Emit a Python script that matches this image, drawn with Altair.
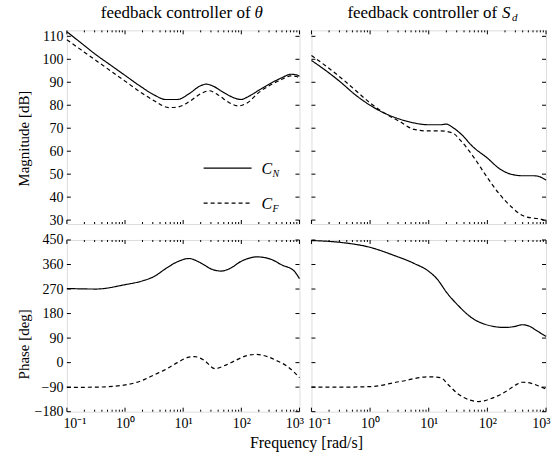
import altair as alt
import pandas as pd

FONT = "Liberation Serif, Times New Roman, serif"

# ---------------- data (log10 of frequency in rad/s, values) ----------------
# Magnitude, feedback controller of theta
mt_cn_logf = [-1.0, -0.75, -0.5, -0.25, 0.0, 0.25, 0.5, 0.7, 0.9, 1.1, 1.3, 1.4, 1.5, 1.7, 1.9, 2.0, 2.1, 2.3, 2.5, 2.7, 2.85, 2.95, 3.0]
mt_cn_db = [112.0, 107.0, 102.0, 97.5, 93.0, 88.5, 84.5, 82.5, 82.5, 85.0, 88.5, 89.2, 88.5, 85.5, 83.0, 82.5, 83.5, 86.5, 89.5, 92.0, 93.5, 93.2, 92.6]
mt_cf_logf = [-1.0, -0.75, -0.5, -0.25, 0.0, 0.25, 0.5, 0.75, 0.9, 1.1, 1.3, 1.45, 1.6, 1.8, 1.95, 2.1, 2.3, 2.5, 2.7, 2.85, 2.95, 3.0]
mt_cf_db = [108.5, 104.0, 99.5, 95.0, 90.5, 86.0, 82.0, 79.0, 79.2, 81.5, 85.0, 86.3, 84.5, 81.0, 79.7, 81.0, 85.5, 88.8, 91.3, 92.8, 92.5, 91.8]

# Magnitude, feedback controller of S_d
ms_cn_logf = [-1.0, -0.75, -0.5, -0.25, 0.0, 0.25, 0.5, 0.75, 1.0, 1.2, 1.3, 1.4, 1.55, 1.75, 2.0, 2.2, 2.4, 2.6, 2.8, 2.9, 3.0]
ms_cn_db = [99.5, 95.0, 90.0, 84.5, 80.0, 76.5, 74.0, 72.3, 71.5, 71.5, 71.8, 70.5, 67.5, 62.0, 57.0, 52.5, 50.0, 49.3, 49.3, 48.8, 47.4]
ms_cf_logf = [-1.0, -0.75, -0.5, -0.25, 0.0, 0.25, 0.5, 0.75, 1.0, 1.2, 1.4, 1.55, 1.75, 2.0, 2.2, 2.4, 2.6, 2.8, 2.9, 3.0]
ms_cf_db = [101.7, 97.0, 92.0, 86.5, 81.0, 76.5, 73.0, 69.5, 68.8, 68.8, 68.0, 64.5, 58.0, 48.5, 41.5, 36.0, 32.0, 30.8, 30.5, 29.5]

# Phase, feedback controller of theta
pt_cn_logf = [-1.0, -0.5, 0.0, 0.3, 0.5, 0.7, 0.9, 1.1, 1.3, 1.5, 1.65, 1.8, 2.0, 2.27, 2.5, 2.7, 2.9, 3.0]
pt_cn_deg = [272, 270, 286, 300, 316, 345, 370, 382, 366, 342, 336, 345, 372, 388, 380, 358, 338, 308]
pt_cf_logf = [-1.0, -0.5, 0.0, 0.3, 0.5, 0.7, 0.9, 1.1, 1.2, 1.35, 1.55, 1.7, 1.9, 2.1, 2.25, 2.45, 2.6, 2.8, 3.0]
pt_cf_deg = [-91, -90, -82, -65, -45, -25, 0, 20, 22, 10, -22, -12, 8, 26, 30, 22, 8, -15, -55]

# Phase, feedback controller of S_d
ps_cn_logf = [-1.0, -0.5, 0.0, 0.4, 0.75, 1.0, 1.15, 1.3, 1.5, 1.75, 2.0, 2.3, 2.45, 2.6, 2.7, 2.85, 3.0]
ps_cn_deg = [448, 441, 423, 394, 364, 335, 305, 259, 210, 162, 138, 129, 132, 139, 135, 116, 96]
ps_cf_logf = [-1.0, -0.5, 0.0, 0.5, 1.0, 1.2, 1.35, 1.5, 1.7, 1.85, 2.05, 2.3, 2.5, 2.6, 2.75, 2.9, 3.0]
ps_cf_deg = [-90, -90, -88, -70, -52, -55, -85, -115, -137, -143, -133, -108, -80, -72, -76, -88, -97]

series_names = ["C_N", "C_F"]
mag_ticks = [30, 40, 50, 60, 70, 80, 90, 100, 110]
phase_ticks = [-180, -90, 0, 90, 180, 270, 360, 450]
x_major = [0.1, 1, 10, 100, 1000]
x_minor = [m * d for d in [0.1, 1, 10, 100] for m in [2, 3, 4, 5, 6, 7, 8, 9]]

# ---------------- helpers ----------------
def make_df(cn_logf, cn_v, cf_logf, cf_v):
    rows = []
    for lf, v in zip(cn_logf, cn_v):
        rows.append({"f": 10 ** lf, "v": v, "s": "C_N", "o": lf})
    for lf, v in zip(cf_logf, cf_v):
        rows.append({"f": 10 ** lf, "v": v, "s": "C_F", "o": lf})
    return pd.DataFrame(rows)


XSCALE = alt.Scale(type="log", domain=[0.1, 1000], nice=False)
ONE = pd.DataFrame({"a": [0]})


def panel(df, ydomain, yticks, w, h, ytitle=None, ytitle_y=None, xlabels=False, extra=None):
    yscale = alt.Scale(domain=ydomain, nice=False, zero=False)
    if ytitle is not None:
        yaxis = alt.Axis(values=yticks, ticks=False, domain=False, grid=False,
                         labelPadding=4, labelFont=FONT, labelFontSize=14, labelColor="black",
                         title=ytitle, titleFont=FONT, titleFontSize=15, titleFontWeight="normal",
                         titleColor="black", titlePadding=5, titleY=ytitle_y,
                         minExtent=30, maxExtent=30)
    else:
        yaxis = None
    if xlabels:
        expr = ("datum.value < 0.5 ? '10⁻¹' : datum.value < 5 ? '10⁰' : "
                "datum.value < 50 ? '10¹' : datum.value < 500 ? '10²' : '10³'")
        xaxis = alt.Axis(values=x_major, labelExpr=expr, ticks=False, domain=False, grid=False,
                         labelPadding=5, labelFont=FONT, labelFontSize=14, labelColor="black",
                         labelFlush=True, labelFlushOffset=4, labelOverlap=False, title=None)
    else:
        xaxis = None

    lines = alt.Chart(df).mark_line(color="black", strokeWidth=1.2, interpolate="monotone").encode(
        x=alt.X("f:Q", scale=XSCALE, axis=xaxis),
        y=alt.Y("v:Q", scale=yscale, axis=yaxis),
        strokeDash=alt.StrokeDash("s:N", scale=alt.Scale(domain=series_names, range=[[1, 0], [4, 3]]), legend=None),
        order="o:Q",
    )

    ydf = pd.DataFrame({"v": yticks})
    ytl = alt.Chart(ydf).mark_rule(color="black", strokeWidth=1).encode(
        y=alt.Y("v:Q", scale=yscale, axis=yaxis), x=alt.value(0), x2=alt.value(4))
    ytr = alt.Chart(ydf).mark_rule(color="black", strokeWidth=1).encode(
        y=alt.Y("v:Q", scale=yscale, axis=yaxis), x=alt.value(w - 4), x2=alt.value(w))
    xmaj = pd.DataFrame({"f": x_major})
    xmin = pd.DataFrame({"f": x_minor})
    xt = []
    for d, L in ((xmaj, 4), (xmin, 2)):
        xt.append(alt.Chart(d).mark_rule(color="black", strokeWidth=1).encode(
            x=alt.X("f:Q", scale=XSCALE, axis=xaxis), y=alt.value(h), y2=alt.value(h - L)))
        xt.append(alt.Chart(d).mark_rule(color="black", strokeWidth=1).encode(
            x=alt.X("f:Q", scale=XSCALE, axis=xaxis), y=alt.value(0), y2=alt.value(L)))
    layers = [lines, ytl, ytr] + xt + (extra or [])
    return alt.layer(*layers).properties(width=w, height=h)


def txt(s, x, y, size=15, style="normal", align="left"):
    return alt.Chart(ONE).mark_text(text=s, font=FONT, fontSize=size, fontStyle=style, align=align,
                                    baseline="alphabetic", color="black").encode(
        x=alt.value(x), y=alt.value(y))


WL, WR, HT, HB = 233, 235, 194, 172

# titles and legend (annotations)
title_left = [txt("feedback controller of", 184, -12, 17, align="right"),
              txt("θ", 188, -12, 17, style="italic")]
title_right = [txt("feedback controller of", 186, -12, 17, align="right"),
               txt("S", 191, -12, 17, style="italic"),
               txt("d", 201, -9, 11, style="italic")]
legend = [
    alt.Chart(ONE).mark_rule(color="black", strokeWidth=1.2).encode(
        x=alt.value(137), x2=alt.value(185), y=alt.value(138)),
    alt.Chart(ONE).mark_rule(color="black", strokeWidth=1.2, strokeDash=[4, 3]).encode(
        x=alt.value(137), x2=alt.value(185), y=alt.value(173)),
    txt("C", 195, 144, 16, style="italic"),
    txt("N", 206, 147, 10, style="italic"),
    txt("C", 195, 179, 16, style="italic"),
    txt("F", 206, 182, 10, style="italic"),
]

mag_dom = [28.3, 112.6]
ph_dom = [-180, 450]

tl = panel(make_df(mt_cn_logf, mt_cn_db, mt_cf_logf, mt_cf_db), mag_dom, mag_ticks, WL, HT,
           ytitle="Magnitude [dB]", ytitle_y=108, extra=title_left + legend)
tr = panel(make_df(ms_cn_logf, ms_cn_db, ms_cf_logf, ms_cf_db), mag_dom, mag_ticks, WR, HT,
           extra=title_right)
bl = panel(make_df(pt_cn_logf, pt_cn_deg, pt_cf_logf, pt_cf_deg), ph_dom, phase_ticks, WL, HB,
           ytitle="Phase [deg]", ytitle_y=104, xlabels=True,
           extra=[txt("Frequency [rad/s]", 240, 208, 16, align="center")])
br = panel(make_df(ps_cn_logf, ps_cn_deg, ps_cf_logf, ps_cf_deg), ph_dom, phase_ticks, WR, HB,
           xlabels=True)

chart = alt.vconcat(
    alt.hconcat(tl, tr, spacing=12, bounds="flush"),
    alt.hconcat(bl, br, spacing=12, bounds="flush"),
    spacing=4,
).properties(
    padding={"left": 16, "top": 3, "right": 5, "bottom": 5}
).configure_view(
    stroke="black", strokeWidth=1
).configure(background="white")

chart.save("out.html", embed_options={"renderer": "svg", "actions": False})
